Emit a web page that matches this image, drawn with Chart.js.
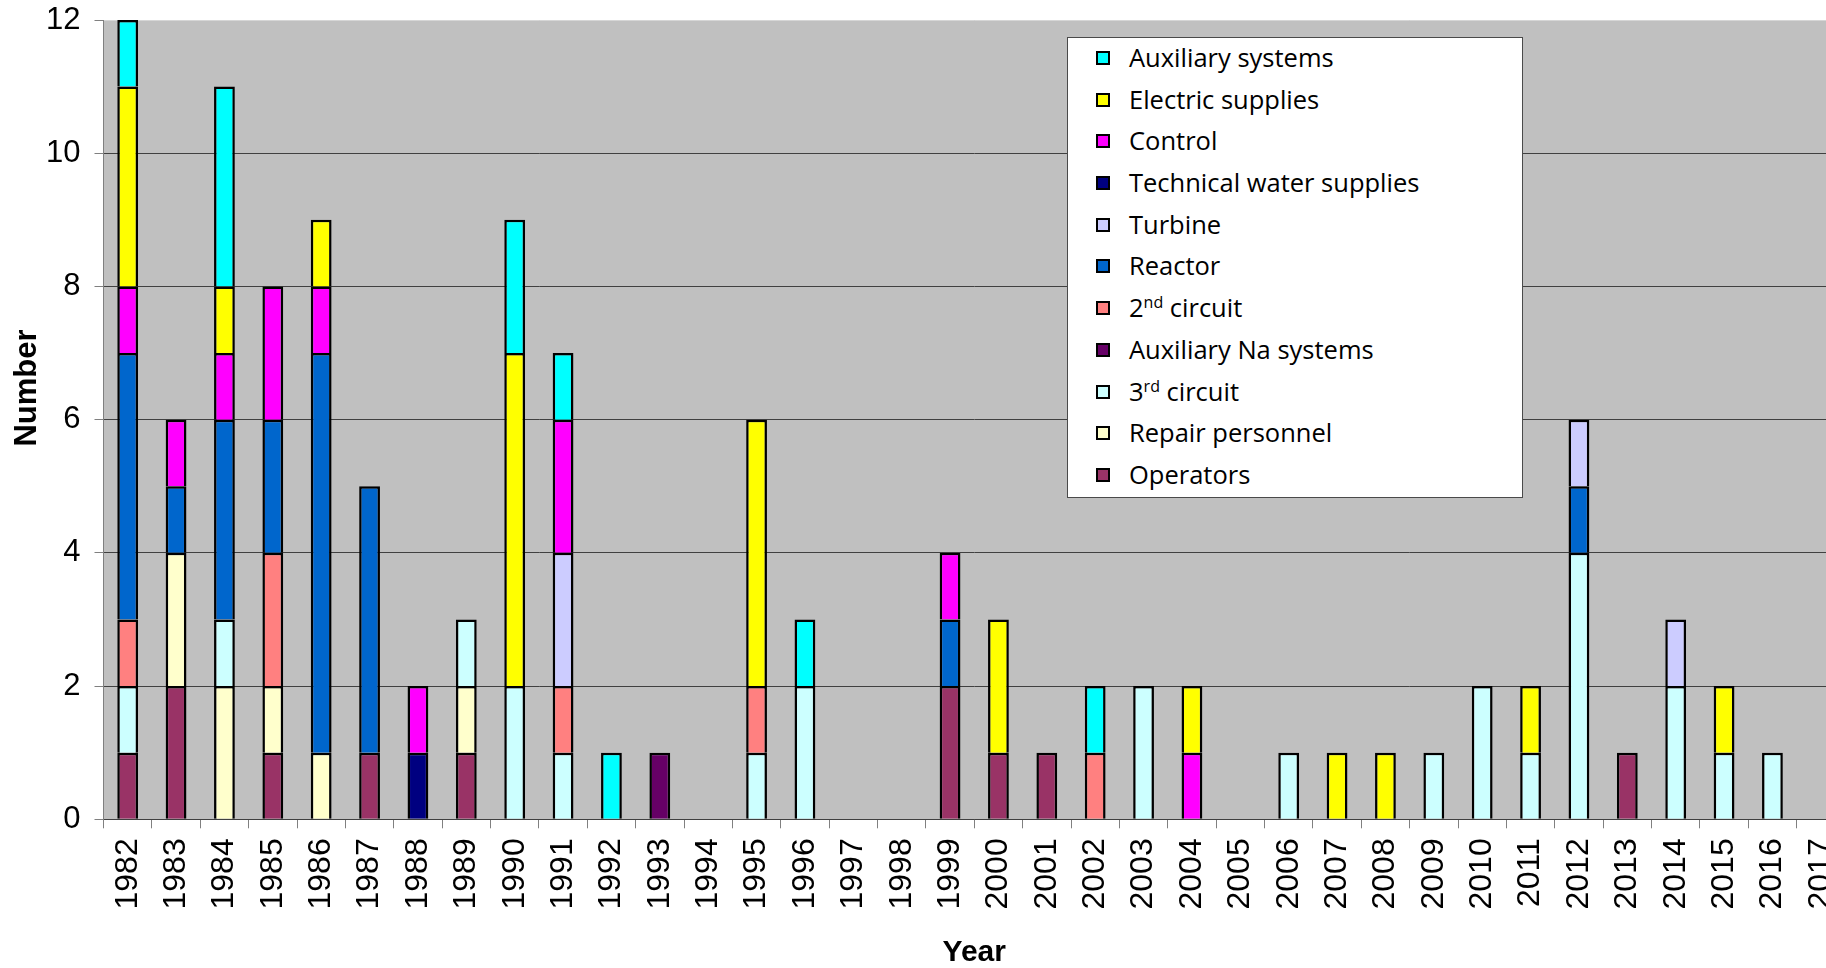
<!DOCTYPE html>
<html>
<head>
<meta charset="utf-8">
<title>Events by year</title>
<script src="https://cdn.jsdelivr.net/npm/chart.js@4.4.0/dist/chart.umd.min.js"></script>
<style>
  html, body { margin: 0; padding: 0; background: #fff; overflow: hidden; }
  #wrap { position: relative; width: 1845px; height: 968px; }
  #chart { display: block; }
  #legend {
    position: absolute; left: 1067px; top: 37px; width: 456px; height: 461px;
    box-sizing: border-box; border: 1.5px solid #4a4a4a; background: #fff;
    font-family: "Open Sans", sans-serif; font-size: 25.5px; color: #000;
  }
  #legend .item { position: relative; height: 41.7px; }
  #legend .swatch {
    position: absolute; left: 27.5px; top: 13px; width: 10px; height: 10px;
    border: 2px solid #000;
  }
  #legend .txt { position: absolute; left: 61px; top: -1px; line-height: 40px; white-space: nowrap; }
  #legend sup { font-size: 16px; line-height: 0; vertical-align: 9px; }
</style>
</head>
<body>
<div id="wrap">
  <canvas id="chart" width="1845" height="968"></canvas>
  <div id="legend"></div>
</div>
<script>
"use strict";

const YEARS = [
  "1982", "1983", "1984", "1985", "1986", "1987", "1988", "1989", "1990", "1991",
  "1992", "1993", "1994", "1995", "1996", "1997", "1998", "1999", "2000", "2001",
  "2002", "2003", "2004", "2005", "2006", "2007", "2008", "2009", "2010", "2011",
  "2012", "2013", "2014", "2015", "2016", "2017",
];

// one value per year, 1982 .. 2017
const OPERATORS   = [1,2,0,1,0,1,0,1,0,0, 0,0,0,0,0,0,0,2,1,1, 0,0,0,0,0,0,0,0,0,0, 0,1,0,0,0,0];
const REPAIR      = [0,2,2,1,1,0,0,1,0,0, 0,0,0,0,0,0,0,0,0,0, 0,0,0,0,0,0,0,0,0,0, 0,0,0,0,0,0];
const CIRCUIT_3   = [1,0,1,0,0,0,0,1,2,1, 0,0,0,1,2,0,0,0,0,0, 0,2,0,0,1,0,0,1,2,1, 4,0,2,1,1,0];
const AUX_NA      = [0,0,0,0,0,0,0,0,0,0, 0,1,0,0,0,0,0,0,0,0, 0,0,0,0,0,0,0,0,0,0, 0,0,0,0,0,0];
const CIRCUIT_2   = [1,0,0,2,0,0,0,0,0,1, 0,0,0,1,0,0,0,0,0,0, 1,0,0,0,0,0,0,0,0,0, 0,0,0,0,0,0];
const REACTOR     = [4,1,3,2,6,4,0,0,0,0, 0,0,0,0,0,0,0,1,0,0, 0,0,0,0,0,0,0,0,0,0, 1,0,0,0,0,0];
const TURBINE     = [0,0,0,0,0,0,0,0,0,2, 0,0,0,0,0,0,0,0,0,0, 0,0,0,0,0,0,0,0,0,0, 1,0,1,0,0,0];
const TECH_WATER  = [0,0,0,0,0,0,1,0,0,0, 0,0,0,0,0,0,0,0,0,0, 0,0,0,0,0,0,0,0,0,0, 0,0,0,0,0,0];
const CONTROL     = [1,1,1,2,1,0,1,0,0,2, 0,0,0,0,0,0,0,1,0,0, 0,0,1,0,0,0,0,0,0,0, 0,0,0,0,0,0];
const ELECTRIC    = [3,0,1,0,1,0,0,0,5,0, 0,0,0,4,0,0,0,0,2,0, 0,0,1,0,0,1,1,0,0,1, 0,0,0,1,0,0];
const AUX_SYSTEMS = [1,0,3,0,0,0,0,0,2,1, 1,0,0,0,1,0,0,0,0,0, 1,0,0,0,0,0,0,0,0,0, 0,0,0,0,0,0];

const Y_TICKS = [0, 2, 4, 6, 8, 10, 12];
const X_TITLE = "Year";
const Y_TITLE = "Number";

// bottom of the stack first
const SERIES = [
  ["Operators", OPERATORS, "#993366"],
  ["Repair personnel", REPAIR, "#FFFFCC"],
  ["3rd circuit", CIRCUIT_3, "#CCFFFF"],
  ["Auxiliary Na systems", AUX_NA, "#660066"],
  ["2nd circuit", CIRCUIT_2, "#FF8080"],
  ["Reactor", REACTOR, "#0066CC"],
  ["Turbine", TURBINE, "#CCCCFF"],
  ["Technical water supplies", TECH_WATER, "#000080"],
  ["Control", CONTROL, "#FF00FF"],
  ["Electric supplies", ELECTRIC, "#FFFF00"],
  ["Auxiliary systems", AUX_SYSTEMS, "#00FFFF"],
];

const FONT = "'Liberation Sans', Arial, sans-serif";

const plotBackground = {
  id: "plotBackground",
  beforeDraw(chart) {
    const { ctx, chartArea: a } = chart;
    ctx.save();
    ctx.fillStyle = "#C0C0C0";
    ctx.fillRect(a.left, a.top, a.right - a.left, a.bottom - a.top);
    ctx.restore();
  },
};

const sideTitle = {
  id: "sideTitle",
  afterDraw(chart, args, opts) {
    const ctx = chart.ctx;
    ctx.save();
    ctx.translate(opts.x, opts.y);
    ctx.rotate(-Math.PI / 2);
    ctx.font = opts.font;
    ctx.fillStyle = "#000";
    ctx.textAlign = "center";
    ctx.textBaseline = "middle";
    ctx.fillText(opts.text, 0, 0);
    ctx.restore();
  },
};

function buildLegend(chart) {
  const box = document.getElementById("legend");
  box.innerHTML = "";
  for (const ds of chart.data.datasets.slice().reverse()) {
    const row = document.createElement("div");
    row.className = "item";
    const sw = document.createElement("span");
    sw.className = "swatch";
    sw.style.background = ds.backgroundColor;
    const txt = document.createElement("span");
    txt.className = "txt";
    const m = ds.label.match(/^(\d)(st|nd|rd|th)(.*)$/);
    if (m) {
      const sup = document.createElement("sup");
      sup.textContent = m[2];
      txt.append(m[1], sup, m[3]);
    } else {
      txt.textContent = ds.label;
    }
    row.append(sw, txt);
    box.appendChild(row);
  }
}

Chart.defaults.font.family = FONT;
Chart.defaults.color = "#000";

const chart = new Chart(document.getElementById("chart"), {
  type: "bar",
  data: {
    labels: YEARS,
    datasets: SERIES.map(([label, values, color]) => ({
      label,
      data: values.map((v) => v || null),
      backgroundColor: color,
      borderColor: "#000",
      borderWidth: 2.5,
      barPercentage: 0.43,
      categoryPercentage: 1,
    })),
  },
  options: {
    responsive: false,
    animation: false,
    devicePixelRatio: 1,
    layout: { padding: { top: 20, left: 0, right: 0, bottom: 0 } },
    plugins: {
      legend: { display: false },
      tooltip: { enabled: false },
      sideTitle: { text: Y_TITLE, x: 27, y: 388, font: "bold 31px " + FONT },
    },
    scales: {
      x: {
        stacked: true,
        grid: {
          offset: true,
          drawOnChartArea: false,
          tickLength: 9,
          color: "#808080",
        },
        border: { display: true, color: "#404040", width: 1 },
        ticks: {
          autoSkip: false,
          minRotation: 90,
          maxRotation: 90,
          padding: 10,
          font: { size: 32 },
          color: "#000",
        },
        title: {
          display: true,
          text: X_TITLE,
          font: { size: 30, weight: "bold", lineHeight: 1 },
          padding: { top: 0, bottom: 0 },
        },
        afterFit: (s) => {
          s.height = 148.7;
          s.paddingLeft = 0;
          s.paddingRight = 0;
        },
      },
      y: {
        stacked: true,
        min: 0,
        max: 12,
        afterBuildTicks: (s) => { s.ticks = Y_TICKS.map((v) => ({ value: v })); },
        grid: {
          color: (c) => (c.tick && c.tick.value === 12 ? "#d6d6d6" : "#404040"),
          tickColor: "#808080",
          tickLength: 9,
          lineWidth: 1,
        },
        border: { display: true, color: "#808080", width: 1 },
        ticks: { padding: 14, font: { size: 31 }, color: "#000" },
        afterFit: (s) => {
          s.width = 103.5;
          s.paddingTop = 0;
          s.paddingBottom = 0;
        },
      },
    },
  },
  plugins: [plotBackground, sideTitle],
});

buildLegend(chart);
</script>
</body>
</html>
